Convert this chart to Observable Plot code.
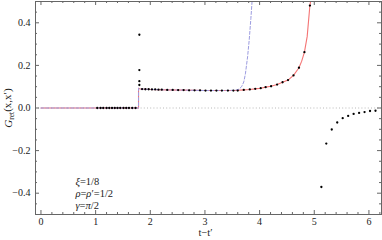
<!DOCTYPE html>
<html>
<head>
<meta charset="utf-8">
<script src="https://cdn.jsdelivr.net/npm/d3@7"></script>
<script src="https://cdn.jsdelivr.net/npm/@observablehq/plot@0.6"></script>
<style>
  html, body { margin: 0; padding: 0; background: white; }
</style>
</head>
<body>
<div id="chart"></div>
<script>
// ---- data ----
const redT = [0, 1.785, 1.785, 1.82, 1.9, 2.0, 2.3, 2.6, 3.0, 3.3, 3.55, 3.71, 3.82, 3.92, 4.02, 4.11, 4.21, 4.32, 4.42, 4.52, 4.62, 4.72, 4.77, 4.82, 4.87, 4.92, 4.932];
const redY = [0, 0, 0.093, 0.089, 0.088, 0.087, 0.085, 0.084, 0.082, 0.082, 0.082, 0.085, 0.087, 0.090, 0.093, 0.098, 0.102, 0.110, 0.121, 0.131, 0.153, 0.189, 0.220, 0.262, 0.335, 0.481, 0.5];

const blueT = [0, 1.785, 1.785, 1.82, 1.9, 2.0, 2.3, 2.6, 3.0, 3.3, 3.55, 3.62, 3.67, 3.71, 3.74, 3.78, 3.81, 3.84, 3.862];
const blueY = [0, 0, 0.093, 0.089, 0.088, 0.087, 0.085, 0.084, 0.082, 0.082, 0.083, 0.088, 0.100, 0.122, 0.160, 0.240, 0.320, 0.420, 0.5];

const dotT = [1.03, 1.09, 1.14, 1.20, 1.25, 1.30, 1.35, 1.40, 1.45, 1.51, 1.56, 1.61, 1.67, 1.73,
  1.80, 1.80, 1.80, 1.80,
  1.85, 1.91, 1.97, 2.03, 2.09, 2.15, 2.21, 2.31, 2.41, 2.51, 2.61, 2.71, 2.81, 2.91, 3.01, 3.11, 3.21, 3.31, 3.42, 3.52,
  3.60, 3.71, 3.82, 3.92, 4.02, 4.11, 4.21, 4.32, 4.42, 4.52, 4.62, 4.72, 4.82, 4.92,
  5.13, 5.22, 5.32, 5.42, 5.52, 5.62, 5.72, 5.82, 5.92, 6.02, 6.12];
const dotY = [0, 0, 0, 0, 0, 0, 0, 0, 0, 0, 0, 0, 0, 0,
  0.344, 0.178, 0.126, 0.108,
  0.089, 0.088, 0.088, 0.087, 0.087, 0.086, 0.086, 0.085, 0.085, 0.084, 0.084, 0.083, 0.083, 0.083, 0.082, 0.082, 0.082, 0.082, 0.082, 0.082,
  0.082, 0.085, 0.087, 0.090, 0.093, 0.098, 0.102, 0.110, 0.121, 0.131, 0.153, 0.189, 0.262, 0.481,
  -0.371, -0.167, -0.101, -0.068, -0.048, -0.037, -0.028, -0.023, -0.019, -0.014, -0.013];

const xMajor = [0, 1, 2, 3, 4, 5, 6];
const xMinor = [0.2, 0.4, 0.6, 0.8, 1.2, 1.4, 1.6, 1.8, 2.2, 2.4, 2.6, 2.8, 3.2, 3.4, 3.6, 3.8, 4.2, 4.4, 4.6, 4.8, 5.2, 5.4, 5.6, 5.8, 6.2];
const yMajor = [-0.4, -0.2, 0, 0.2, 0.4];
const yMinor = [-0.45, -0.35, -0.3, -0.25, -0.15, -0.1, -0.05, 0.05, 0.1, 0.15, 0.25, 0.3, 0.35, 0.45];
const xLabel = "t\u2212t\u2032";
const yLabel = "Gret";
const annotation = "\u03BE=1/8\n\u03C1=\u03C1\u2032=1/2\n\u03B3=\u03C0/2";

const red = redT.map((t, i) => ({t, y: redY[i]}));
const blue = blueT.map((t, i) => ({t, y: blueY[i]}));
const dots = dotT.map((t, i) => ({t, y: dotY[i]}));

const W = 382, H = 240, mL = 35, mR = 1, mT = 1, mB = 26;
const fw = W - mL - mR, fh = H - mT - mB;
const frameColor = "#666";
const fmt = d => d === 0 ? "0.0" : d3.format(".1f")(d);

const chart = Plot.plot({
  width: W, height: H,
  marginLeft: mL, marginRight: mR, marginTop: mT, marginBottom: mB,
  x: {domain: [-0.1, 6.23]},
  y: {domain: [-0.5, 0.5]},
  style: {fontFamily: "'Liberation Serif', 'DejaVu Serif', serif", fontSize: "10px", background: "white", color: "#222"},
  marks: [
    Plot.ruleY([0], {stroke: "#b8b8b8", strokeDasharray: "1,2.2", strokeWidth: 1}),
    Plot.line(red, {x: "t", y: "y", stroke: "#f47474", strokeWidth: 1.1}),
    Plot.line(blue, {x: "t", y: "y", stroke: "#9c9ce0", strokeWidth: 1, strokeDasharray: "3,2"}),
    Plot.dot(dots, {x: "t", y: "y", r: 1.15, fill: "black", stroke: "none"}),
    Plot.frame({stroke: frameColor, strokeWidth: 1}),
    // major / minor ticks, drawn inward on all four sides
    Plot.ruleX(xMajor, {x: d => d, insetTop: fh - 4, stroke: frameColor}),
    Plot.ruleX(xMajor, {x: d => d, insetBottom: fh - 4, stroke: frameColor}),
    Plot.ruleX(xMinor, {x: d => d, insetTop: fh - 2, stroke: frameColor}),
    Plot.ruleX(xMinor, {x: d => d, insetBottom: fh - 2, stroke: frameColor}),
    Plot.ruleY(yMajor, {y: d => d, insetRight: fw - 4, stroke: frameColor}),
    Plot.ruleY(yMajor, {y: d => d, insetLeft: fw - 4, stroke: frameColor}),
    Plot.ruleY(yMinor, {y: d => d, insetRight: fw - 2, stroke: frameColor}),
    Plot.ruleY(yMinor, {y: d => d, insetLeft: fw - 2, stroke: frameColor}),
    Plot.axisX(xMajor, {tickSize: 0, tickPadding: 3, tickFormat: d => String(d), label: null, fontSize: 10}),
    Plot.axisY(yMajor, {tickSize: 0, tickPadding: 5, tickFormat: fmt, label: null, fontSize: 10}),
    Plot.text([xLabel], {frameAnchor: "bottom", dx: -3, dy: 18, lineAnchor: "middle", fontSize: 10.5}),
    Plot.text([yLabel], {frameAnchor: "left", dx: -27, rotate: -90, lineAnchor: "middle", textAnchor: "middle", fontSize: 11}),
    Plot.text([annotation], {x: () => 0.63, y: () => -0.401, textAnchor: "start", lineAnchor: "middle", lineHeight: 1.12, fontSize: 10.5})
  ]
});

// subscript for the y-axis label, italic Greek letters in the annotation
d3.select(chart).selectAll("text").each(function() {
  if (this.textContent === yLabel) {
    const t = d3.select(this);
    t.text(null);
    t.append("tspan").attr("font-style", "italic").text("G");
    t.append("tspan").attr("font-size", 7.5).attr("dy", "0.3em").text("ret");
    t.append("tspan").attr("dy", "-0.3em").text("(x,x\u2032)");
  }
  if (this.textContent.startsWith("\u03BE")) {
    d3.select(this).selectAll("tspan").each(function() {
      const s = this.textContent;
      const el = d3.select(this);
      el.text(null);
      for (const ch of s) {
        const sp = el.append("tspan").text(ch);
        if (/[\u0370-\u03FF]/.test(ch)) sp.attr("font-style", "italic");
      }
    });
  }
});

document.getElementById("chart").appendChild(chart);
</script>
</body>
</html>
